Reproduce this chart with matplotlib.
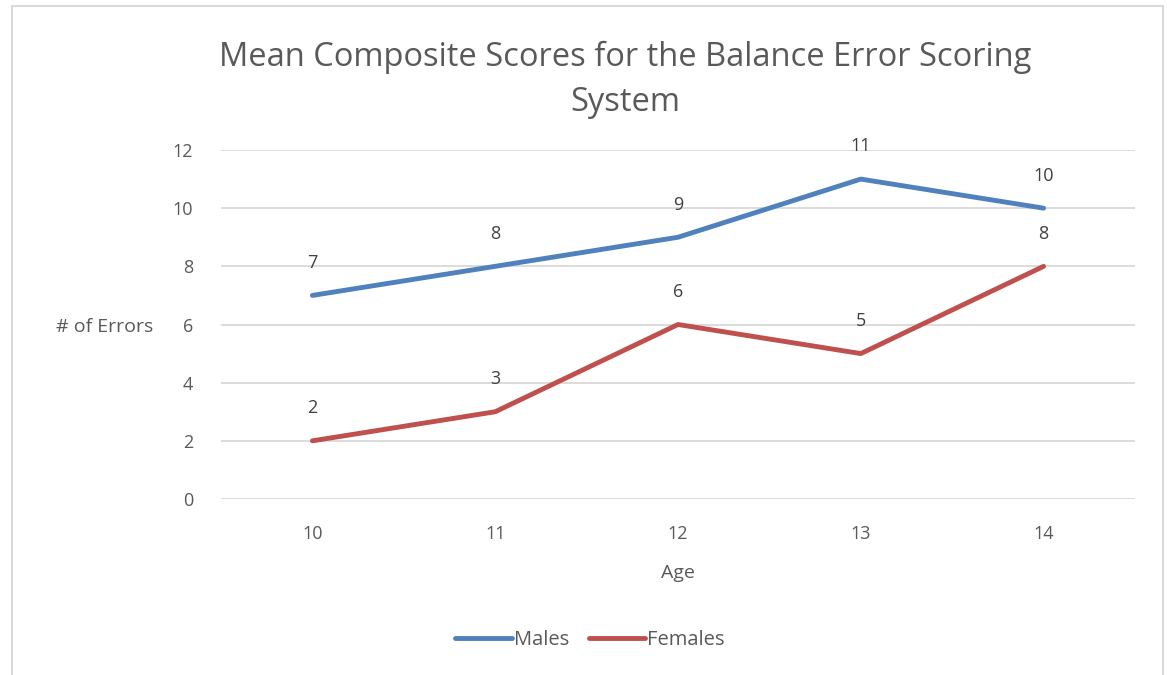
import matplotlib.pyplot as plt
from matplotlib.patches import Rectangle

ages = [10, 11, 12, 13, 14]
males = [7, 8, 9, 11, 10]
females = [2, 3, 6, 5, 8]
yticks = [0, 2, 4, 6, 8, 10, 12]

plt.rcParams['font.family'] = ['Open Sans', 'DejaVu Sans']
txt = '#595959'
grid = '#d9d9d9'

fig = plt.figure(figsize=(11.67, 6.75), dpi=100)
ax = fig.add_axes([221/1167, 1 - 499/675, (1135 - 221)/1167, (499 - 150)/675])

## Chart border (bottom edge runs off the image)
fig.patches.append(Rectangle((12/1167, -0.05), (1163 - 12)/1167, 1.05 - 6/675,
                             transform=fig.transFigure, fill=False,
                             edgecolor=grid, linewidth=1.5))

x = list(range(len(ages)))
ax.plot(x, males, color='#4f81bd', linewidth=3.5, solid_capstyle='round', label='Males')
ax.plot(x, females, color='#c0504d', linewidth=3.5, solid_capstyle='round', label='Females')

for series in (males, females):
    for xi, v in zip(x, series):
        ax.annotate(str(v), (xi, v), xytext=(0, 17), textcoords='offset points',
                    ha='center', va='bottom', fontsize=13, color='#404040')

ax.set_xlim(-0.5, 4.5)
ax.set_ylim(0, 12)
ax.set_yticks(yticks)
ax.set_xticks(x)
ax.set_xticklabels([str(a) for a in ages])
ax.yaxis.grid(True, color=grid, linewidth=1.3)
ax.set_axisbelow(True)
for s in ax.spines.values():
    s.set_visible(False)
ax.tick_params(length=0, labelsize=13, labelcolor=txt)
ax.tick_params(axis='y', pad=20)
ax.tick_params(axis='x', pad=19)

ax.set_xlabel('Age', fontsize=14, color=txt, labelpad=15)
fig.text(105/1167, 1 - 327/675, '# of Errors', fontsize=14, color=txt,
         ha='center', va='center')

fig.text(625/1167, 1 - 80/675, 'Mean Composite Scores for the Balance Error Scoring\nSystem',
         fontsize=23.5, color=txt, ha='center', va='center', linespacing=1.45)

fig.legend(loc='center', bbox_to_anchor=(590/1167, 1 - 640/675), ncol=2, frameon=False,
           fontsize=14.5, labelcolor=txt, handlelength=2.8, handletextpad=0.1,
           columnspacing=1.0)

fig.savefig('out.png', dpi=100)
